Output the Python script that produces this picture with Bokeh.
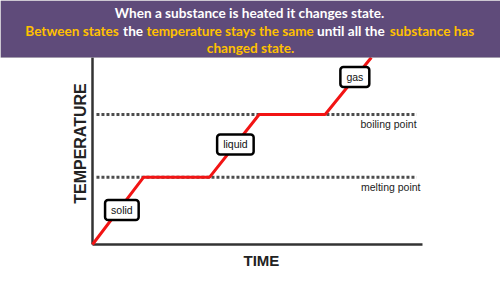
from bokeh.plotting import figure
from bokeh.models import Range1d, Label, BoxAnnotation
from bokeh.embed import file_html
from bokeh.resources import INLINE

# ---- data (time / temperature, arbitrary units 0..100) ----
time = [0, 15.5, 35.5, 50.5, 70.5, 84.5]
temperature = [0, 36, 36, 69.5, 69.5, 100]
melting_point = 36
boiling_point = 69.5
state_names = ["solid", "liquid", "gas"]
line_names = ["melting point", "boiling point"]

p = figure(width=500, height=282, output_backend="svg", toolbar_location=None,
           x_range=Range1d(-27.88, 123.64), y_range=Range1d(-20.32, 130.48),
           min_border=0, min_border_left=0, min_border_right=0,
           min_border_top=0, min_border_bottom=0)
p.axis.visible = False
p.grid.visible = False
p.outline_line_color = None
p.background_fill_color = "white"
p.border_fill_color = "white"

dark = "#222222"

# dotted reference lines
for lvl in (melting_point, boiling_point):
    p.line([1.2, 98.2], [lvl, lvl], line_color="#4d4d4d", line_width=3, line_dash="3 2")

# axes
p.line([0, 0], [0, 100], line_color="#333333", line_width=2.5)
p.line([0, 100], [0, 0], line_color="#333333", line_width=2.5)

# heating curve
p.line(time, temperature, line_color="#f21414", line_width=3)

# point labels
p.add_layout(Label(x=98.2, y=64.7, text=line_names[1], text_align="right", text_baseline="middle",
                   text_font="Liberation Sans", text_font_size="10.5px", text_color=dark))
p.add_layout(Label(x=99.4, y=30.5, text=line_names[0], text_align="right", text_baseline="middle",
                   text_font="Liberation Sans", text_font_size="10.5px", text_color=dark))

# state boxes
for name, (bx, by) in zip(state_names, [(8.9, 18.4), (43.3, 53.5), (79.5, 89.6)]):
    p.add_layout(Label(x=bx, y=by, text=name, text_align="center", text_baseline="middle",
                       text_font="Liberation Sans", text_font_size="10.5px", text_color="#111111",
                       background_fill_color="white", border_line_color="black",
                       border_line_width=2.5, padding=(6, 4), border_radius=3))

# axis titles
p.add_layout(Label(x=51.2, y=-8.6, text="TIME", text_align="center", text_baseline="middle",
                   text_font="Liberation Sans", text_font_style="bold", text_font_size="15px",
                   text_color=dark))
p.add_layout(Label(x=-3.6, y=54, text="TEMPERATURE", text_align="center", text_baseline="middle",
                   angle=1.5708, text_font="Liberation Sans", text_font_style="bold",
                   text_font_size="16px", text_color=dark))

# banner
p.add_layout(BoxAnnotation(bottom=100, fill_color="#5f4b7a", fill_alpha=1,
                           line_color="#8a8a8a", line_width=1))

white = "#ffffff"
gold = "#ffc000"
bf = "Lato"
fs = "13.6px"
p.add_layout(Label(x=47.6, y=123.7, text="When a substance is heated it changes state.",
                   text_align="center", text_baseline="middle", text_font=bf,
                   text_font_style="bold", text_font_size=fs, text_color=white))
segs = [("Between states", -6.2, gold), ("the", 12.3, white),
        ("temperature stays the same", 41.7, gold), ("until all the", 78.3, white),
        ("substance has", 102.9, gold)]
for t, sx, c in segs:
    p.add_layout(Label(x=sx, y=114.4, text=t, text_align="center", text_baseline="middle",
                       text_font=bf, text_font_style="bold", text_font_size=fs, text_color=c))
p.add_layout(Label(x=47.9, y=105.3, text="changed state.", text_align="center",
                   text_baseline="middle", text_font=bf, text_font_style="bold",
                   text_font_size=fs, text_color=gold))

open("out.html", "w").write(file_html(p, INLINE))
